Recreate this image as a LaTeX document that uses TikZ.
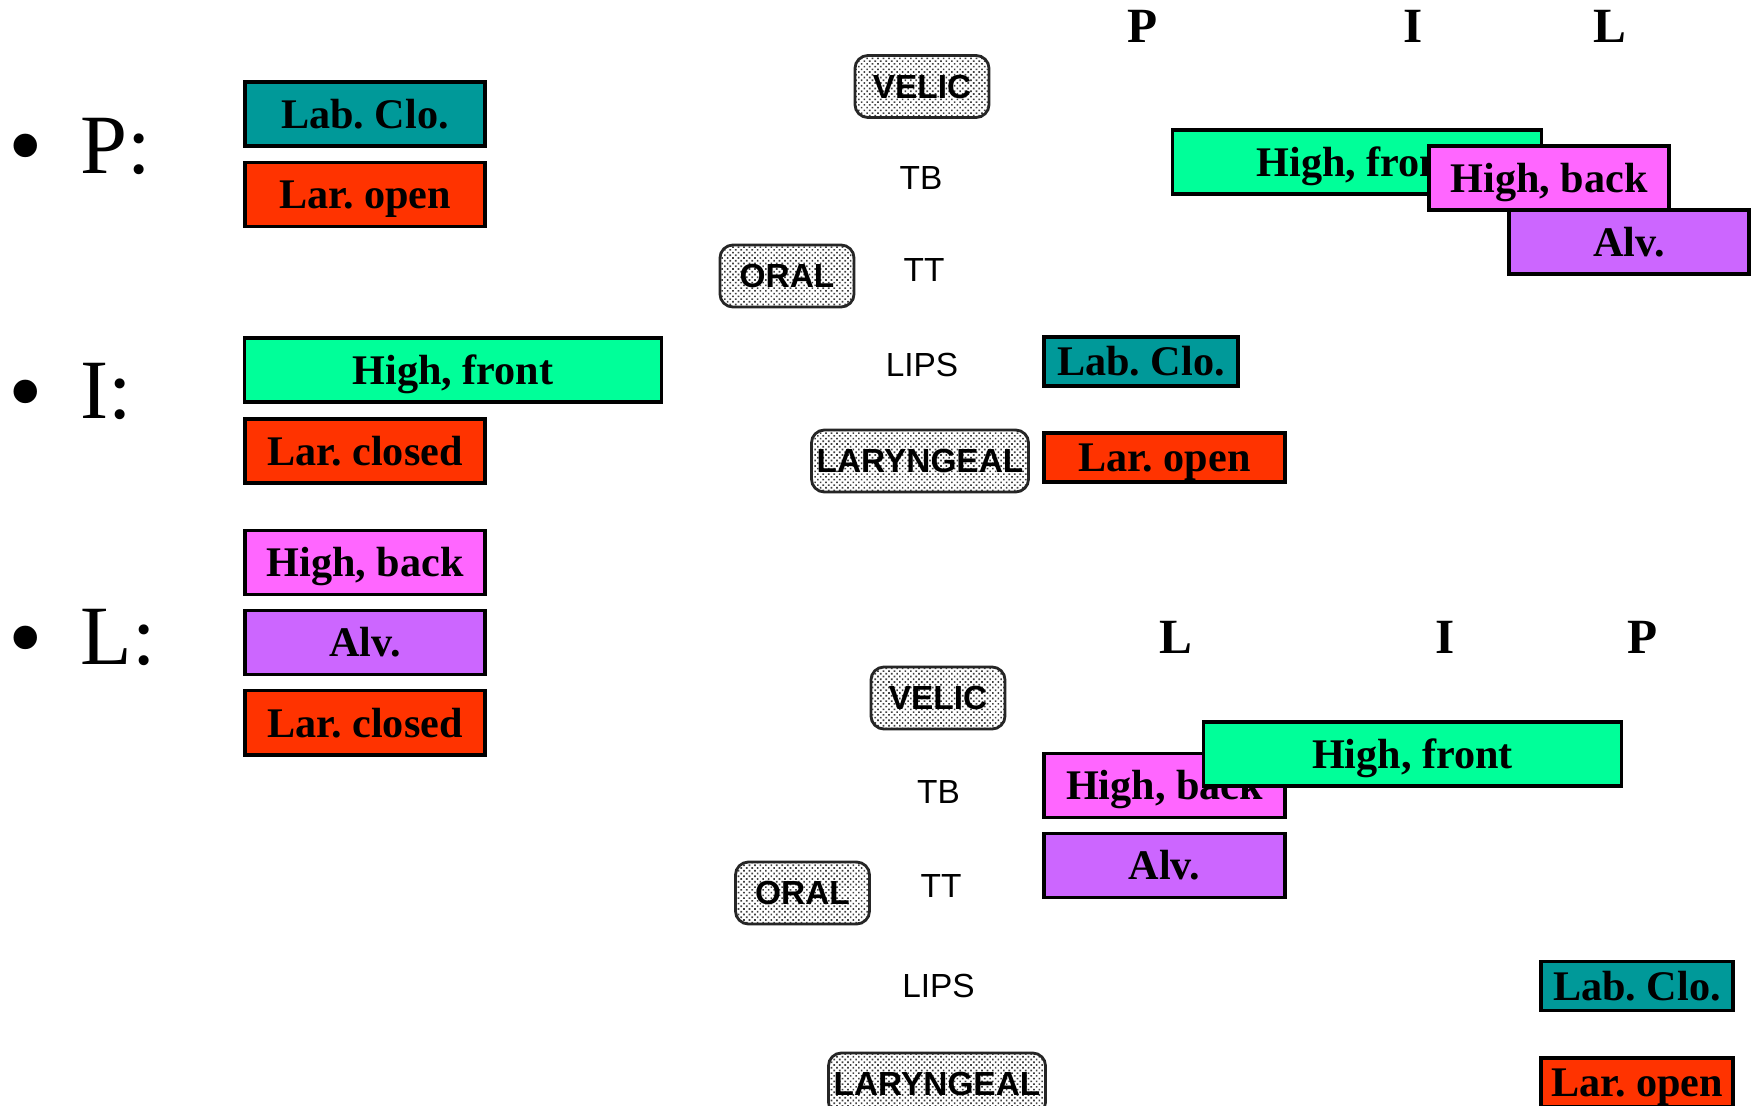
\documentclass[tikz,border=0pt]{standalone}
\usepackage{fontspec}
\setmainfont{Liberation Serif}
\setsansfont{Liberation Sans}
\usetikzlibrary{positioning, patterns.meta}
\frenchspacing

\definecolor{labteal}{HTML}{009999}
\definecolor{larred}{HTML}{FF3300}
\definecolor{frontgreen}{HTML}{00FF99}
\definecolor{backpink}{HTML}{FF66FF}
\definecolor{alvpurple}{HTML}{CC66FF}

\begin{document}
\begin{tikzpicture}
    [x=0.01cm, y=-0.01cm,
    gesture/.style={rectangle, draw=black, line width=0.9pt, inner sep=0pt,
        minimum height=0.64cm, minimum width=2.40cm,
        text height=8.1pt, text depth=0pt, font=\fontsize{12}{14}\selectfont\bfseries},
    labbox/.style={gesture, fill=labteal},
    larbox/.style={gesture, fill=larred},
    frontbox/.style={gesture, fill=frontgreen},
    backbox/.style={gesture, fill=backpink},
    alvbox/.style={gesture, fill=alvpurple},
    organ/.style={rectangle, rounded corners=0.13cm, draw=black!85, line width=0.8pt,
        pattern={Dots[distance=1.1pt, radius=0.33pt, angle=45]}, pattern color=black!75,
        inner sep=0pt, minimum height=0.62cm, minimum width=1.34cm,
        text height=6.8pt, text depth=0pt, font=\sffamily\bfseries\fontsize{9.5}{11}\selectfont},
    tier/.style={inner sep=0pt, text height=6.8pt, text depth=0pt,
        font=\sffamily\fontsize{9.5}{11}\selectfont},
    bul/.style={inner sep=0pt, anchor=base, font=\fontsize{28}{30}\selectfont},
    seg/.style={inner sep=0pt, anchor=base west, font=\fontsize{24}{28}\selectfont},
    timing/.style={inner sep=0pt, anchor=base, font=\fontsize{14}{16}\selectfont\bfseries},]

    \useasboundingbox (0,0) rectangle (1756,1106);

    %Segments
    \node[bul] (bP) at (26,179) {•};
    \node[seg] (sP) at (80,173) {P:};
    \node[bul] (bI) at (26,424) {•};
    \node[seg] (sI) at (80,418) {I:};
    \node[bul] (bL) at (26,670) {•};
    \node[seg] (sL) at (80,664) {L:};

    \node[labbox] (pLab) at (365,114) {Lab. Clo.};
    \node[larbox] (pLar) [below=0.13cm of pLab] {Lar. open};
    \node[frontbox, minimum width=4.16cm] (iFront) at (453,370) {High, front};
    \node[larbox] (iLar) at (365,451) {Lar. closed};
    \node[backbox] (lBack) at (365,562.5) {High, back};
    \node[alvbox] (lAlv) [below=0.13cm of lBack] {Alv.};
    \node[larbox] (lLar) [below=0.13cm of lAlv] {Lar. closed};

    %Score PIL
    \node[timing] (uP) at (1143,42) {P};
    \node[timing] (uI) at (1413,42) {I};
    \node[timing] (uL) at (1610,42) {L};

    \node[organ] (uVel) at (922,86.5) {VELIC};
    \node[tier] (uTB) at (921,178) {TB};
    \node[organ] (uOral) at (787,276) {ORAL};
    \node[tier] (uTT) at (924,269.5) {TT};
    \node[tier] (uLips) at (922,365) {LIPS};
    \node[organ, minimum width=2.17cm] (uLar) at (920,461) {LARYNGEAL};

    \node[frontbox, minimum width=3.68cm] (uFront) at (1357,162) {High, front};
    \node[backbox] (uBack) at (1549,178) {High, back};
    \node[alvbox] (uAlv) at (1629,242) {Alv.};
    \node[labbox, minimum width=1.94cm, minimum height=0.49cm] (uLab) at (1141,361.5) {Lab. Clo.};
    \node[larbox, minimum width=2.41cm, minimum height=0.49cm] (uLarO) at (1164.5,457.5) {Lar. open};

    %Score LIP
    \node[timing] (dL) at (1176,653) {L};
    \node[timing] (dI) at (1445,653) {I};
    \node[timing] (dP) at (1643,653) {P};

    \node[organ] (dVel) at (938,698) {VELIC};
    \node[tier] (dTB) at (938.5,792) {TB};
    \node[organ] (dOral) at (802.5,893) {ORAL};
    \node[tier] (dTT) at (941,886) {TT};
    \node[tier] (dLips) at (938.5,985.5) {LIPS};
    \node[organ, minimum width=2.17cm] (dLar) at (937,1084) {LARYNGEAL};

    \node[backbox, minimum width=2.41cm] (dBack) at (1164.5,785.5) {High, back};
    \node[alvbox, minimum width=2.41cm] (dAlv) at (1164.5,865.5) {Alv.};
    \node[frontbox, minimum width=4.17cm] (dFront) at (1412.5,754) {High, front};
    \node[labbox, minimum width=1.92cm, minimum height=0.49cm] (dLab) at (1637,986) {Lab. Clo.};
    \node[larbox, minimum width=1.92cm, minimum height=0.49cm] (dLarO) at (1637,1082.5) {Lar. open};
\end{tikzpicture}
\end{document}
